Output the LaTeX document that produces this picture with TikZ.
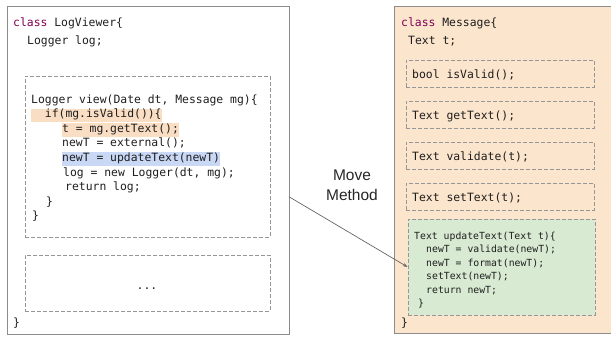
\documentclass[tikz,border=0pt]{standalone}
\usepackage{fontspec}
\setmonofont{DejaVu Sans Mono}
\setsansfont{Liberation Sans}
\usetikzlibrary{arrows.meta}
\definecolor{kw}{RGB}{127,0,85}
\definecolor{codeink}{RGB}{30,30,30}
\definecolor{framegray}{RGB}{140,140,140}
\definecolor{dashgray}{RGB}{150,150,150}
\definecolor{peach}{RGB}{252,229,205}
\definecolor{mint}{RGB}{217,234,211}
\definecolor{hlorange}{RGB}{250,222,196}
\definecolor{hlblue}{RGB}{201,216,245}
\begin{document}
\begin{tikzpicture}[x=1pt,y=-1pt,
  code/.style={anchor=base west, inner sep=0pt, text=codeink,
    font=\ttfamily\fontsize{11.4}{13}\selectfont},
  small/.style={code, font=\ttfamily\fontsize{9.8}{12}\selectfont},
  hl/.style={fill=#1, inner xsep=0pt, inner ysep=1pt, text height=8pt, text depth=3.5pt},
  outer/.style={draw=framegray, line width=0.9pt, inner sep=0pt},
  dbox/.style={draw=dashgray, dash pattern=on 4pt off 2pt, line width=0.8pt, inner sep=0pt},
  conn/.style={draw=black!60, line width=0.7pt, -{Stealth[length=5pt,width=3.5pt]}},
  ]
\clip (0,0) rectangle (611,337);

% ---------- class LogViewer ----------
\node[outer, minimum width=282pt, minimum height=328pt] (lv) at (148,170) {};
\node[code] (lv1) at (13,27) {\textcolor{kw}{class} LogViewer\{};
\node[code] (lv2) at (27,45) {Logger log;};

\node[dbox, minimum width=245pt, minimum height=161pt] (view) at (147.5,156.5) {};
\node[code] (v1) at (31,103) {Logger view(Date dt, Message mg)\{};
\node[code, hl=hlorange] (v2) at (31,117.6) {\ \ if(mg.isValid())\{};
\node[code, hl=hlorange] (v3) at (62,132.2) {t = mg.getText();};
\node[code] (v4) at (62,146.8) {newT = external();};
\node[code, hl=hlblue] (v5) at (62,161.4) {newT = updateText(newT)};
\node[code] (v6) at (63,176) {log = new Logger(dt, mg);};
\node[code] (v7) at (65,190.6) {return log;};
\node[code] (v8) at (46,205.2) {\}};
\node[code] (v9) at (32,219.8) {\}};

\node[dbox, minimum width=245pt, minimum height=56pt] (other) at (147.5,283) {};
\node[code, anchor=base] (dots) at (147,289) {...};
\node[code] (lvend) at (13,326) {\}};

% ---------- class Message ----------
\node[outer, fill=peach, minimum width=222pt, minimum height=327pt] (msg) at (505,169.5) {};
\node[code] (m1) at (401,27) {\textcolor{kw}{class} Message\{};
\node[code] (m2) at (408,45) {Text t;};

\node[dbox, minimum width=188pt, minimum height=27pt] (b1) at (500,73.5) {};
\node[code] (t1) at (412,78) {bool isValid();};
\node[dbox, minimum width=188pt, minimum height=27pt] (b2) at (500,114.5) {};
\node[code] (t2) at (412,119) {Text getText();};
\node[dbox, minimum width=188pt, minimum height=27pt] (b3) at (500,155.5) {};
\node[code] (t3) at (412,160) {Text validate(t);};
\node[dbox, minimum width=188pt, minimum height=27pt] (b4) at (500,196.5) {};
\node[code] (t4) at (412,201) {Text setText(t);};

\node[dbox, fill=mint, minimum width=187pt, minimum height=96pt] (upd) at (501.5,267) {};
\node[small] (u1) at (414,239) {Text updateText(Text t)\{};
\node[small] (u2) at (426,252.5) {newT = validate(newT);};
\node[small] (u3) at (426,266) {newT = format(newT);};
\node[small] (u4) at (426,279.5) {setText(newT);};
\node[small] (u5) at (426,293) {return newT;};
\node[small] (u6) at (418,306.5) {\}};
\node[code] (msgend) at (401,326) {\}};

% ---------- refactoring step ----------
\node[font=\sffamily\fontsize{15.5}{20}\selectfont, text=black!85, align=center] (mm) at (352,185) {Move\\Method};
\draw[conn] ([yshift=-27pt]lv.east) -- (upd.west);
\end{tikzpicture}
\end{document}
